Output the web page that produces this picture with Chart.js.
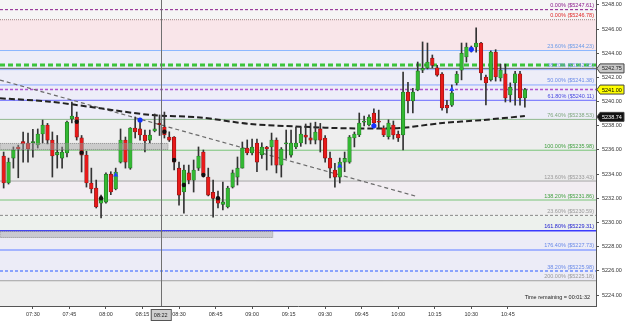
<!DOCTYPE html>
<html>
<head>
<meta charset="utf-8">
<script src="https://cdn.jsdelivr.net/npm/chart.js@4.4.1/dist/chart.umd.min.js"></script>
<style>
  html, body { margin: 0; padding: 0; background: #fff; }
</style>
</head>
<body>
<canvas id="chart" width="625" height="321"></canvas>
<script>
// 2 minute candles, first one at 07:18 (minutes since midnight)
const firstBar = 7 * 60 + 18;
const barMinutes = 2;

const opens = [
  5235.5, 5233.27, 5235.33, 5236.25, 5236.7, 5236.58, 5236.6, 5236.41, 5237.32, 5238.07,
  5236.82, 5235.6, 5235.33, 5235.75, 5238.56, 5238.73, 5237.0, 5235.58, 5233.27, 5232.85,
  5231.6, 5231.69, 5234.0, 5232.77, 5235.0, 5236.82, 5234.5, 5237.82, 5237.74, 5237.24,
  5236.82, 5237.57, 5238.2, 5237.9, 5237.07, 5237.07, 5234.5, 5232.52, 5234.1, 5233.5,
  5234.5, 5235.83, 5233.76, 5232.5, 5232.1, 5231.5, 5231.28, 5232.93, 5233.76, 5234.5,
  5236.16, 5235.75, 5236.58, 5235.6, 5236.25, 5236.25, 5236.82, 5234.75, 5236.5, 5235.58,
  5236.25, 5236.58, 5237.24, 5237.0, 5236.82, 5237.74, 5236.99, 5235.33, 5234.34, 5233.76,
  5235.0, 5235.0, 5236.99, 5237.24, 5238.3, 5238.07, 5239.06, 5238.4, 5237.82, 5237.1,
  5238.07, 5237.3, 5237.24, 5240.8, 5240.05, 5240.96, 5242.6, 5242.78, 5243.6, 5242.8,
  5242.29, 5239.7, 5239.7, 5241.54, 5242.6, 5243.7, 5244.3, 5244.52, 5244.85, 5242.04,
  5241.8, 5244.1, 5241.96, 5242.3, 5240.55, 5241.54, 5242.3, 5240.3
];
const highs = [
  5235.83, 5235.33, 5236.25, 5236.4, 5237.49, 5237.4, 5237.7, 5237.74, 5238.48, 5238.2,
  5237.49, 5237.2, 5236.25, 5238.4, 5239.97, 5239.14, 5237.2, 5235.9, 5234.5, 5233.51,
  5232.27, 5234.1, 5234.2, 5234.5, 5237.74, 5237.07, 5237.85, 5238.73, 5238.48, 5237.65,
  5237.65, 5238.98, 5238.9, 5239.14, 5237.5, 5237.1, 5235.0, 5234.75, 5234.75, 5235.17,
  5236.25, 5236.0, 5234.5, 5233.51, 5232.6, 5233.35, 5233.0, 5234.34, 5235.42, 5236.66,
  5236.83, 5236.9, 5236.9, 5236.6, 5236.3, 5237.4, 5237.0, 5236.2, 5237.65, 5237.65,
  5237.9, 5237.9, 5238.15, 5238.23, 5238.3, 5238.2, 5237.2, 5235.83, 5234.9, 5235.33,
  5235.83, 5237.2, 5237.49, 5239.06, 5238.8, 5238.9, 5239.4, 5239.3, 5238.0, 5238.5,
  5238.4, 5237.57, 5242.45, 5241.6, 5241.1, 5243.28, 5244.94, 5244.85, 5243.86, 5243.0,
  5242.4, 5240.1, 5241.38, 5242.5, 5244.85, 5244.85, 5244.6, 5246.1, 5244.9, 5242.2,
  5244.2, 5244.3, 5243.1, 5243.1, 5241.55, 5242.5, 5242.5, 5241.1
];
const lows = [
  5232.85, 5233.18, 5234.5, 5233.7, 5235.0, 5235.0, 5235.4, 5236.16, 5236.58, 5236.5,
  5233.76, 5234.5, 5234.5, 5235.42, 5238.23, 5236.82, 5234.18, 5232.93, 5232.44, 5231.2,
  5230.37, 5231.6, 5232.3, 5232.7, 5234.92, 5234.5, 5234.4, 5236.99, 5236.82, 5235.83,
  5236.58, 5237.5, 5237.2, 5236.99, 5236.7, 5234.34, 5231.44, 5230.78, 5233.2, 5232.52,
  5234.3, 5233.76, 5232.2, 5230.45, 5231.2, 5231.03, 5231.2, 5232.85, 5233.1, 5234.5,
  5235.6, 5235.6, 5234.2, 5235.3, 5234.34, 5234.75, 5234.1, 5233.76, 5235.3, 5235.4,
  5236.1, 5236.3, 5236.5, 5236.5, 5236.5, 5235.83, 5235.0, 5233.68, 5232.93, 5233.27,
  5234.2, 5234.9, 5236.25, 5237.1, 5238.0, 5238.0, 5237.82, 5237.8, 5237.1, 5236.9,
  5236.9, 5236.7, 5236.0, 5239.06, 5239.06, 5240.9, 5242.4, 5242.7, 5242.8, 5242.1,
  5239.3, 5239.06, 5239.6, 5241.38, 5241.8, 5243.28, 5244.1, 5244.1, 5241.8, 5239.72,
  5241.7, 5241.7, 5241.7, 5239.97, 5239.97, 5239.7, 5239.7, 5239.55
];
const closes = [
  5233.27, 5235.0, 5236.0, 5236.08, 5236.5, 5236.08, 5236.7, 5237.32, 5238.07, 5236.82,
  5235.5, 5235.8, 5235.83, 5238.31, 5238.81, 5237.07, 5235.58, 5233.27, 5232.77, 5231.28,
  5232.0, 5234.0, 5232.52, 5234.18, 5236.82, 5235.0, 5237.82, 5237.49, 5237.24, 5236.74,
  5237.24, 5237.74, 5238.1, 5237.24, 5236.82, 5235.0, 5232.27, 5234.34, 5233.5, 5234.34,
  5235.5, 5233.93, 5232.27, 5232.0, 5231.6, 5231.7, 5232.85, 5234.1, 5234.5, 5236.16,
  5235.75, 5236.25, 5235.0, 5236.25, 5236.08, 5236.82, 5234.75, 5236.08, 5236.6, 5236.58,
  5236.58, 5237.32, 5237.07, 5236.82, 5237.49, 5236.82, 5235.33, 5234.5, 5233.76, 5235.0,
  5235.3, 5237.07, 5237.32, 5238.23, 5238.4, 5238.73, 5238.23, 5238.3, 5237.24, 5238.23,
  5237.24, 5236.99, 5240.8, 5240.05, 5240.8, 5242.54, 5242.75, 5243.28, 5243.0, 5242.2,
  5239.47, 5239.47, 5240.72, 5242.29, 5244.0, 5244.52, 5244.45, 5244.85, 5242.37, 5241.54,
  5244.1, 5242.04, 5242.62, 5240.3, 5241.2, 5242.3, 5240.3, 5241.0
];

// moving average (black dashed)
const maTimes = [436.5, 457, 477.6, 498.1, 518.6, 539.1, 559.7, 580.2, 600.7, 617.1, 634.8, 652];
const maValues = [5240.28, 5240.0, 5239.45, 5238.9, 5238.69, 5238.15, 5237.93, 5237.79, 5237.82, 5238.21, 5238.48, 5238.81];

// trend line (grey dashed)
const trendTimes = [436.5, 608.1];
const trendValues = [5241.79, 5232.13];

// signal markers
const blueDotTimes = [494, 590, 630];
const blueDotPrices = [5238.48, 5238.0, 5244.33];
const arrowTimes = [484, 576, 622];
const arrowPrices = [5233.93, 5234.67, 5241.0];
const blackDotTimes = [468, 470, 478, 504, 508, 512, 520, 526];
const blackDotPrices = [5238.34, 5235.78, 5232.0, 5237.51, 5235.17, 5233.1, 5233.93, 5232.0];

// levels, top to bottom
const levelPrices = [5247.61, 5246.78, 5244.23, 5243.03, 5242.75, 5242.65, 5241.38, 5241.00, 5240.11,
  5238.53, 5235.98, 5233.43, 5231.86, 5230.59, 5229.31, 5227.73, 5225.98, 5225.18];
const levelLabels = ['0.00% ($5247.61)', '0.00% ($5246.78)', '23.60% ($5244.23)', '', '', '38.20% ($5242.65)',
  '50.00% ($5241.38)', '', '61.80% ($5240.11)', '76.40% ($5238.53)', '100.00% ($5235.98)',
  '123.60% ($5233.43)', '138.20% ($5231.86)', '23.60% ($5230.59)', '161.80% ($5229.31)',
  '176.40% ($5227.73)', '38.20% ($5225.98)', '200.00% ($5225.18)'];
const levelStyles = [
  { color: '#8a1a8a', width: 1, dash: [3, 2], text: '#8a1a8a' },
  { color: '#a08080', width: 1, dash: [1, 1], text: '#e02828' },
  { color: '#8cb8ff', width: 1, dash: [], text: '#6a9ae8' },
  { color: '#3cc43c', width: 3, dash: [5, 3], text: '#3cc43c' },
  { color: '#6a6a6a', width: 1, dash: [], text: '#6a6a6a' },
  { color: '#9ab4ff', width: 1, dash: [], text: '#7a9ae8' },
  { color: '#8aa8ff', width: 1, dash: [], text: '#6a8ae8' },
  { color: '#b050d0', width: 1.5, dash: [3, 2], text: '#b050d0' },
  { color: '#6868ff', width: 1, dash: [], text: '#4848e0' },
  { color: '#90b890', width: 1, dash: [], text: '#80a880' },
  { color: '#78c478', width: 1, dash: [], text: '#40a040' },
  { color: '#a8a8a8', width: 1, dash: [], text: '#999999' },
  { color: '#78c478', width: 1, dash: [], text: '#40a040' },
  { color: '#888888', width: 1, dash: [3, 2], text: '#999999' },
  { color: '#3a3aff', width: 1.5, dash: [], text: '#2020d0' },
  { color: '#a4b4ff', width: 2, dash: [], text: '#6a8ae8' },
  { color: '#6a8aff', width: 1.5, dash: [3, 2], text: '#6a8ae8' },
  { color: '#a0a0a0', width: 1, dash: [], text: '#999999' }
];

// shaded zones between levels
const bandEdges = [5248.41, 5246.78, 5244.23, 5238.53, 5235.98, 5233.43, 5231.86, 5230.59, 5229.31, 5225.18, 5223.09];
const bandColors = ['#f5f5f5', '#f9e5e9', '#ededf8', '#eeeeee', '#eaeaea', '#f2edf2', '#eeeeee', '#edf1ed', '#ececf7', '#eeeeee'];

// grey boxes (time end, top price, bottom price)
const boxEnds = [505.5, 548.5];
const boxTops = [5236.58, 5229.31];
const boxBottoms = [5236.0, 5228.72];

// price tags on the axis
const tagPrices = [5242.75, 5241.00, 5238.74];
const tagColors = [['#c8c8c8', '#222'], ['#ffff00', '#000'], ['#111111', '#fff']];

const cursorTime = 502.5;
const cursorLabel = '08:22';
const lastTick = 645;
const xMin = 436.5, xMax = 681.2;
const yMin = 5223.09, yMax = 5248.41;

const barTimes = opens.map((_, i) => firstBar + i * barMinutes);

function hhmm(v) {
  return String(Math.floor(v / 60)).padStart(2, '0') + ':' + String(Math.round(v % 60)).padStart(2, '0');
}

// no extra room around the plot for edge labels
function noPadding(s) {
  s.paddingTop = 0; s.paddingBottom = 0; s.paddingLeft = 0; s.paddingRight = 0;
}

const overlay = {
  id: 'overlay',
  beforeDatasetsDraw(chart) {
    const { ctx, chartArea: a, scales: { y } } = chart;
    ctx.save();
    for (let i = 0; i < bandColors.length; i++) {
      const top = y.getPixelForValue(bandEdges[i]);
      const bot = y.getPixelForValue(bandEdges[i + 1]);
      ctx.fillStyle = bandColors[i];
      ctx.fillRect(a.left, top, a.right - a.left, bot - top);
    }
    ctx.restore();
  },
  afterDatasetsDraw(chart) {
    const { ctx, chartArea: a, scales: { x, y } } = chart;
    ctx.save();
    // grey boxes
    for (let i = 0; i < boxEnds.length; i++) {
      const r = x.getPixelForValue(boxEnds[i]);
      const t = y.getPixelForValue(boxTops[i]);
      const b = y.getPixelForValue(boxBottoms[i]);
      ctx.fillStyle = 'rgba(160,160,160,0.45)';
      ctx.fillRect(a.left, t, r - a.left, b - t);
      ctx.strokeStyle = 'rgba(120,120,120,0.6)';
      ctx.setLineDash([1, 1]);
      ctx.lineWidth = 1;
      ctx.strokeRect(a.left, t + 0.5, r - a.left, b - t - 1);
    }
    ctx.setLineDash([]);
    // cursor line
    const cx = Math.round(x.getPixelForValue(cursorTime)) + 0.5;
    ctx.strokeStyle = '#707070';
    ctx.beginPath();
    ctx.moveTo(cx, a.top);
    ctx.lineTo(cx, a.bottom);
    ctx.stroke();
    // level labels
    ctx.font = "5.5px 'Liberation Sans', Arial, sans-serif";
    ctx.textAlign = 'right';
    ctx.textBaseline = 'middle';
    levelPrices.forEach((p, i) => {
      if (!levelLabels[i]) return;
      ctx.fillStyle = levelStyles[i].text;
      ctx.fillText(levelLabels[i], a.right - 2, y.getPixelForValue(p) - 4);
    });
    ctx.fillStyle = '#222';
    ctx.fillText('Time remaining = 00:01:32', a.right - 6, a.bottom - 9);
    ctx.restore();
  },
  afterDraw(chart) {
    const { ctx, chartArea: a, scales: { x, y } } = chart;
    ctx.save();
    ctx.font = "5.5px 'Liberation Sans', Arial, sans-serif";
    ctx.textBaseline = 'middle';
    tagPrices.forEach((p, i) => {
      const py = y.getPixelForValue(p);
      ctx.fillStyle = tagColors[i][0];
      ctx.strokeStyle = '#444';
      ctx.lineWidth = 1;
      ctx.beginPath();
      ctx.moveTo(a.right + 1, py);
      ctx.lineTo(a.right + 4, py - 4.5);
      ctx.lineTo(a.right + 28, py - 4.5);
      ctx.lineTo(a.right + 28, py + 4.5);
      ctx.lineTo(a.right + 4, py + 4.5);
      ctx.closePath();
      ctx.fill();
      ctx.stroke();
      ctx.fillStyle = tagColors[i][1];
      ctx.textAlign = 'left';
      ctx.fillText(p.toFixed(2), a.right + 6, py + 0.5);
    });
    // cursor time tag
    const cx = x.getPixelForValue(cursorTime);
    ctx.fillStyle = '#cfcfcf';
    ctx.strokeStyle = '#555';
    ctx.fillRect(cx - 10, a.bottom + 3, 20, 11);
    ctx.strokeRect(cx - 10 + 0.5, a.bottom + 3.5, 20, 11);
    ctx.fillStyle = '#222';
    ctx.textAlign = 'center';
    ctx.fillText(cursorLabel, cx, a.bottom + 9);
    ctx.restore();
  }
};

const ctx = document.getElementById('chart');
new Chart(ctx, {
  type: 'bar',
  data: {
    datasets: [
      {
        type: 'scatter',
        data: blueDotTimes.map((t, i) => ({ x: t, y: blueDotPrices[i] })),
        pointRadius: 2.6, pointBackgroundColor: '#1533ff', pointBorderWidth: 0,
        order: 0
      },
      {
        type: 'scatter',
        data: arrowTimes.map((t, i) => ({ x: t, y: arrowPrices[i] })),
        pointStyle: 'triangle', pointRadius: 3, pointBackgroundColor: '#2244ff', pointBorderColor: '#2244ff', pointBorderWidth: 0,
        order: 0
      },
      {
        type: 'scatter',
        data: blackDotTimes.map((t, i) => ({ x: t, y: blackDotPrices[i] })),
        pointRadius: 2.2, pointBackgroundColor: '#111', pointBorderWidth: 0,
        order: 0
      },
      {
        // candle bodies
        data: barTimes.map((t, i) => ({ x: t, y: [opens[i], closes[i]] })),
        backgroundColor: barTimes.map((t, i) => closes[i] >= opens[i] ? '#33b833' : '#e81a1a'),
        borderColor: barTimes.map((t, i) => closes[i] >= opens[i] ? '#1f6a1f' : '#7a1212'),
        borderWidth: 0.6,
        borderSkipped: false,
        barThickness: 3.6,
        minBarLength: 1,
        grouped: false,
        order: 1
      },
      {
        // wicks
        data: barTimes.map((t, i) => ({ x: t, y: [lows[i], highs[i]] })),
        backgroundColor: '#333',
        barThickness: 1,
        grouped: false,
        order: 2
      },
      {
        type: 'line',
        data: maTimes.map((t, i) => ({ x: t, y: maValues[i] })),
        borderColor: '#222', borderWidth: 2, borderDash: [6, 3],
        pointRadius: 0, tension: 0.3,
        order: 3
      },
      {
        type: 'line',
        data: trendTimes.map((t, i) => ({ x: t, y: trendValues[i] })),
        borderColor: '#6a6a6a', borderWidth: 1.2, borderDash: [4, 3],
        pointRadius: 0,
        order: 3
      },
      ...levelPrices.map((p, i) => ({
        type: 'line',
        data: [{ x: xMin, y: p }, { x: xMax, y: p }],
        borderColor: levelStyles[i].color,
        borderWidth: levelStyles[i].width,
        borderDash: levelStyles[i].dash,
        pointRadius: 0,
        order: 5
      }))
    ]
  },
  options: {
    responsive: false,
    animation: false,
    layout: { padding: 0, autoPadding: false },
    plugins: { legend: { display: false }, tooltip: { enabled: false } },
    scales: {
      x: {
        type: 'linear',
        min: xMin, max: xMax,
        offset: false,
        afterFit: s => { s.height = 15; noPadding(s); },
        afterBuildTicks: s => { s.ticks = s.ticks.filter(t => t.value <= lastTick); },
        grid: { drawOnChartArea: false, drawTicks: true, tickLength: 3, color: '#555', offset: false },
        border: { color: '#555' },
        ticks: {
          stepSize: 15, includeBounds: false, autoSkip: false, maxRotation: 0, padding: 2,
          color: '#333', font: { size: 5.5, family: "'Liberation Sans', Arial, sans-serif" },
          callback: v => hhmm(v)
        }
      },
      y: {
        position: 'right',
        min: yMin, max: yMax,
        afterFit: s => { s.width = 29; noPadding(s); },
        grid: { drawOnChartArea: false, drawTicks: true, tickLength: 3, color: '#555' },
        border: { color: '#555' },
        ticks: {
          stepSize: 2, includeBounds: false, padding: 3,
          color: '#333', font: { size: 5.5, family: "'Liberation Sans', Arial, sans-serif" },
          callback: v => v.toFixed(2)
        }
      }
    }
  },
  plugins: [overlay]
});
</script>
</body>
</html>
